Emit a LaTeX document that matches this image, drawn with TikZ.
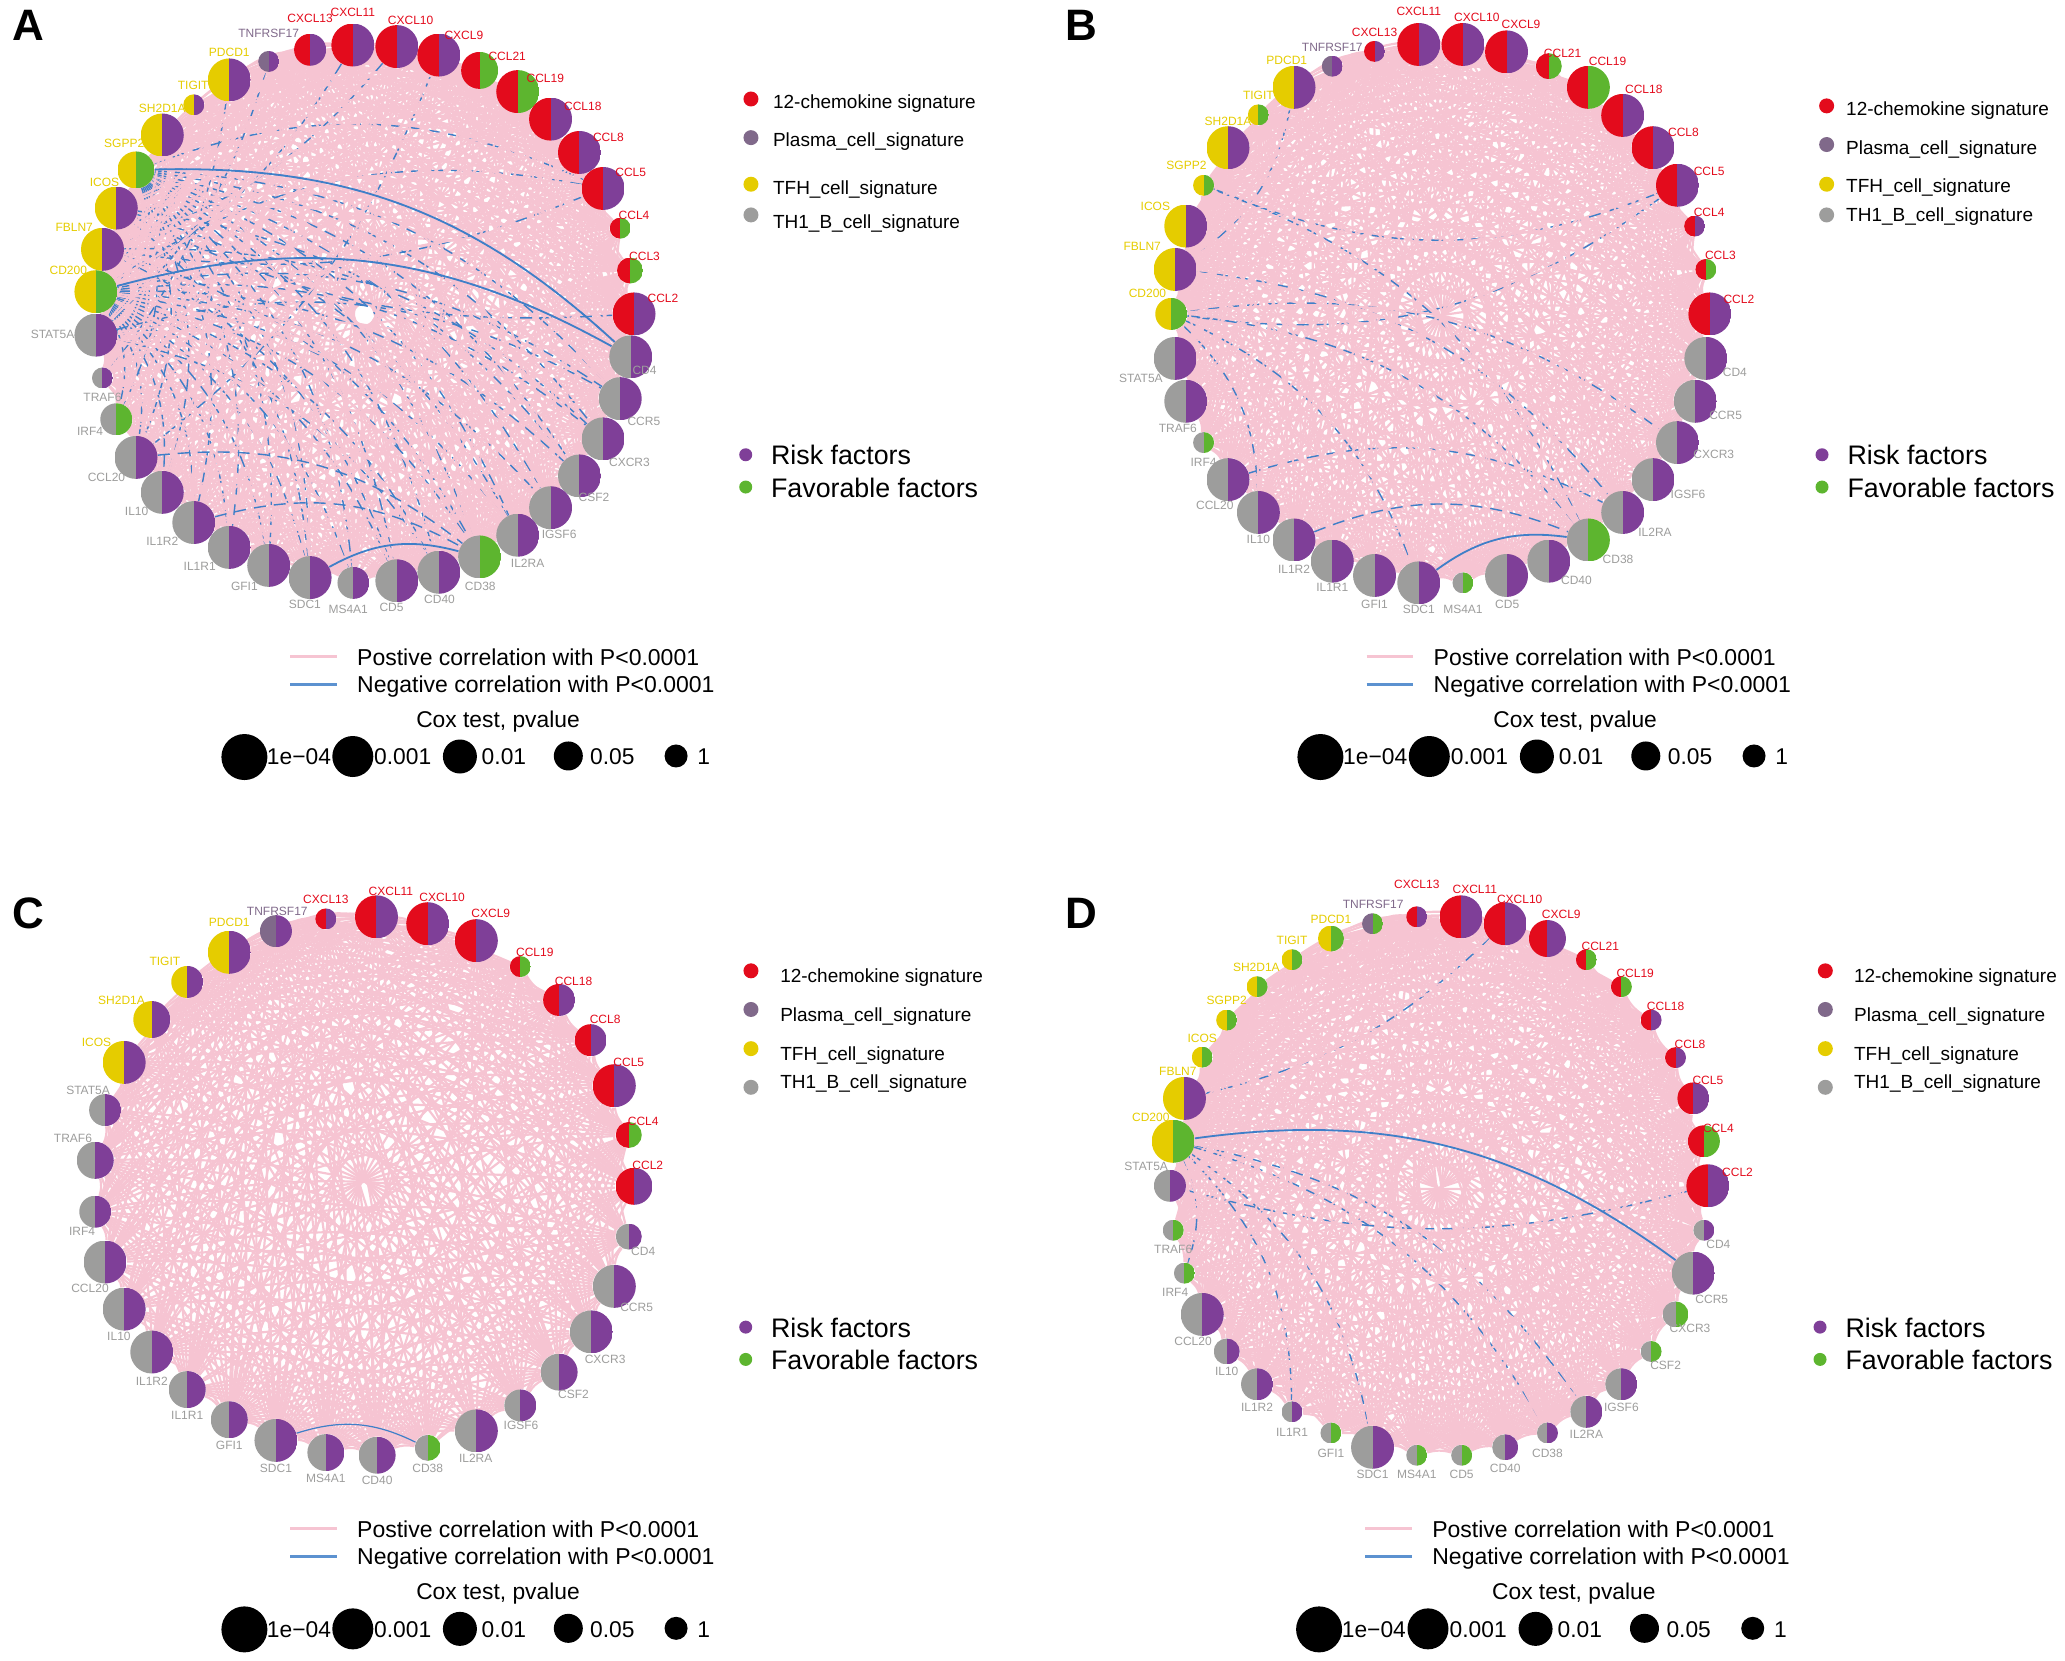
\documentclass[tikz,border=0pt]{standalone}
\usepackage{fontspec}
\setmainfont{Liberation Sans}
\usetikzlibrary{backgrounds}

\definecolor{cRed}{HTML}{E30B1C}
\definecolor{cPlasma}{HTML}{80698A}
\definecolor{cYellow}{HTML}{E5CC00}
\definecolor{cGray}{HTML}{9D9D9C}
\definecolor{cRisk}{HTML}{7F3F98}
\definecolor{cFav}{HTML}{5DB52F}
\definecolor{cPink}{HTML}{F6C4D2}
\definecolor{cBlue}{HTML}{3F7FC8}

\tikzset{
  gene/.style n args={3}{circle,inner sep=0pt,minimum size=#1*0.5pt,
    path picture={
      \fill[#2] (path picture bounding box.south west) rectangle (path picture bounding box.north);
      \fill[#3] (path picture bounding box.south) rectangle (path picture bounding box.north east);
    }},
  genelabel/.style={font=\fontsize{6}{7}\selectfont,inner sep=0pt},
  posedge/.style={cPink,line width=1.1pt},
  negedge/.style={cBlue,line width=0.7pt,dash pattern=on 6pt off 4pt},
  negstrong/.style={cBlue,line width=0.9pt},
  keydot/.style={circle,inner sep=0pt,minimum size=#1*0.5pt},
  keytext/.style={anchor=west,inner sep=0pt},
  panelletter/.style={font=\fontsize{22}{24}\selectfont\bfseries,inner sep=0pt},
  leftpanel/.style={x=0.3285pt,y=-0.2647pt},
  rightpanel/.style={x=0.33pt,y=-0.2647pt}
}

\newcounter{genecount}
\newcommand{\netbend}{15}
\newcommand{\negbend}{22}

\newcommand{\gene}[9]{%
  \stepcounter{genecount}%
  \node[gene={#5}{#6}{#7},alias=#1#2] (#1\arabic{genecount}) at (#3,#4) {};
  \node[genelabel,text=#6] (#1#2t) at (#8,#9) {#2};
}

% #3=0 the pairs under the blue edges, #3=1 the pairs over them
\newcommand{\posnet}[3]{%
  \foreach \ia in {1,...,#2}{\foreach \ib in {1,...,#2}{%
    \ifnum\ia<\ib
      \pgfmathtruncatemacro{\hv}{mod(3*\ia*\ia+5*\ib*\ib+\ia*\ib,13)}%
      \ifnum#3=0
        \ifnum\hv>5 \draw[posedge] (#1\ia) to[bend right=\netbend] (#1\ib); \fi
      \else
        \ifnum\hv>2 \ifnum\hv<6 \draw[posedge] (#1\ia) to[bend right=\netbend] (#1\ib); \fi\fi
      \fi
    \fi}}%
}

\newcommand{\sigkey}[7]{%
  \node[keydot=15,fill=#6] (#1dot) at (#2,#3) {};
  \node[keytext] (#1txt) at (#4,{#5+3}) {\fontsize{9.5}{11}\selectfont #7};
}

% risk key, line key and Cox key; #2 #3 shift, #4 shift of the risk key
\newcommand{\panelkeys}[4]{%
  \node[keydot=13,fill=cRisk] (#1riskdot) at ({1135+#4},{859+#3}) {};
  \node[keydot=13,fill=cFav] (#1favdot) at ({1135+#4},{920+#3}) {};
  \node[keytext] (#1risk) at ({1173+#4},{860+#3}) {\fontsize{13.4}{16}\selectfont Risk factors};
  \node[keytext] (#1fav) at ({1173+#4},{921+#3}) {\fontsize{13.4}{16}\selectfont Favorable factors};
  \coordinate (#1posa) at ({442+#2},{1240+#3});
  \coordinate (#1posb) at ({513+#2},{1240+#3});
  \coordinate (#1nega) at ({442+#2},{1293+#3});
  \coordinate (#1negb) at ({513+#2},{1293+#3});
  \draw[cPink,line width=1.5pt] (#1posa) -- (#1posb);
  \draw[cBlue!85!white,line width=1.5pt] (#1nega) -- (#1negb);
  \node[keytext] (#1postxt) at ({543+#2},{1241+#3}) {\fontsize{11.5}{13}\selectfont Postive correlation with P<0.0001};
  \node[keytext] (#1negtxt) at ({543+#2},{1297+#3}) {\fontsize{11.5}{13}\selectfont Negative correlation with P<0.0001};
  \node[inner sep=0pt] (#1coxtitle) at ({758+#2},{1363+#3}) {\fontsize{11.4}{13}\selectfont Cox test, pvalue};
  \node[keydot=46,fill=black] (#1coxa) at ({372+#2},{1430+#3}) {};
  \node[keydot=41,fill=black] (#1coxb) at ({537+#2},{1429+#3}) {};
  \node[keydot=34,fill=black] (#1coxc) at ({700+#2},{1429+#3}) {};
  \node[keydot=29,fill=black] (#1coxd) at ({865+#2},{1428+#3}) {};
  \node[keydot=23,fill=black] (#1coxe) at ({1029+#2},{1428+#3}) {};
  \node[inner sep=0pt] (#1coxat) at ({455+#2},{1430+#3}) {\fontsize{11.4}{13}\selectfont 1e−04};
  \node[inner sep=0pt] (#1coxbt) at ({613+#2},{1430+#3}) {\fontsize{11.4}{13}\selectfont 0.001};
  \node[inner sep=0pt] (#1coxct) at ({767+#2},{1430+#3}) {\fontsize{11.4}{13}\selectfont 0.01};
  \node[inner sep=0pt] (#1coxdt) at ({932+#2},{1430+#3}) {\fontsize{11.4}{13}\selectfont 0.05};
  \node[inner sep=0pt] (#1coxet) at ({1071+#2},{1430+#3}) {\fontsize{11.4}{13}\selectfont 1};
}

\begin{document}
\begin{tikzpicture}[x=0.5pt,y=-0.5pt]
  \useasboundingbox (0,0) rectangle (2065,1660);

  % panel A
  \begin{scope}[shift={(0,0)},leftpanel]
    \setcounter{genecount}{0}
    \node[panelletter] (letterA) at (43,48) {A};
    \gene{a}{CXCL13}{472}{94}{32}{cRed}{cRisk}{472}{34}
    \gene{a}{CXCL11}{537}{85}{43}{cRed}{cRisk}{537}{24}
    \gene{a}{CXCL10}{604}{88}{43}{cRed}{cRisk}{625}{38}
    \gene{a}{CXCL9}{668}{104}{43}{cRed}{cRisk}{706}{66}
    \gene{a}{CCL21}{730}{133}{37}{cRed}{cFav}{772}{106}
    \gene{a}{CCL19}{788}{173}{43}{cRed}{cFav}{830}{148}
    \gene{a}{CCL18}{838}{225}{43}{cRed}{cRisk}{887}{200}
    \gene{a}{CCL8}{882}{288}{43}{cRed}{cRisk}{926}{259}
    \gene{a}{CCL5}{918}{356}{43}{cRed}{cRisk}{960}{326}
    \gene{a}{CCL4}{944}{431}{21}{cRed}{cFav}{965}{406}
    \gene{a}{CCL3}{959}{511}{26}{cRed}{cFav}{981}{485}
    \gene{a}{CCL2}{965}{593}{43}{cRed}{cRisk}{1009}{563}
    \gene{a}{CD4}{960}{674}{43}{cGray}{cRisk}{981}{700}
    \gene{a}{CCR5}{944}{753}{43}{cGray}{cRisk}{980}{796}
    \gene{a}{CXCR3}{918}{829}{43}{cGray}{cRisk}{958}{873}
    \gene{a}{CSF2}{882}{899}{43}{cGray}{cRisk}{904}{940}
    \gene{a}{IGSF6}{838}{959}{43}{cGray}{cRisk}{851}{1010}
    \gene{a}{IL2RA}{788}{1011}{43}{cGray}{cRisk}{803}{1065}
    \gene{a}{CD38}{730}{1052}{43}{cGray}{cFav}{731}{1107}
    \gene{a}{CD40}{668}{1081}{43}{cGray}{cRisk}{669}{1132}
    \gene{a}{CD5}{604}{1097}{43}{cGray}{cRisk}{596}{1148}
    \gene{a}{MS4A1}{538}{1101}{32}{cGray}{cRisk}{530}{1151}
    \gene{a}{SDC1}{472}{1091}{43}{cGray}{cRisk}{464}{1141}
    \gene{a}{GFI1}{409}{1068}{43}{cGray}{cRisk}{372}{1108}
    \gene{a}{IL1R1}{349}{1034}{43}{cGray}{cRisk}{304}{1069}
    \gene{a}{IL1R2}{295}{987}{43}{cGray}{cRisk}{247}{1022}
    \gene{a}{IL10}{247}{930}{43}{cGray}{cRisk}{208}{966}
    \gene{a}{CCL20}{207}{864}{43}{cGray}{cRisk}{162}{902}
    \gene{a}{IRF4}{177}{792}{32}{cGray}{cFav}{137}{815}
    \gene{a}{TRAF6}{156}{714}{21}{cGray}{cRisk}{156}{751}
    \gene{a}{STAT5A}{146}{633}{43}{cGray}{cRisk}{80}{632}
    \gene{a}{CD200}{146}{551}{43}{cYellow}{cFav}{104}{510}
    \gene{a}{FBLN7}{156}{471}{43}{cYellow}{cRisk}{113}{429}
    \gene{a}{ICOS}{177}{393}{43}{cYellow}{cRisk}{159}{344}
    \gene{a}{SGPP2}{207}{321}{37}{cYellow}{cFav}{189}{271}
    \gene{a}{SH2D1A}{247}{255}{43}{cYellow}{cRisk}{247}{205}
    \gene{a}{TIGIT}{295}{198}{21}{cYellow}{cRisk}{294}{161}
    \gene{a}{PDCD1}{349}{151}{43}{cYellow}{cRisk}{349}{98}
    \gene{a}{TNFRSF17}{409}{116}{21}{cPlasma}{cRisk}{409}{63}
    \begin{scope}[on background layer]
      \posnet{a}{39}{0}
      \foreach \ts in {CD4,CCR5,CXCR3,CSF2,IGSF6,IL2RA,CD38,CD40,CD5,MS4A1,SDC1,GFI1,IL1R1,IL1R2,IL10,CCL20,IRF4,CCL5}{
        \draw[negedge] (aSGPP2) to[bend left=\negbend] (a\ts);
        \draw[negedge] (aCD200) to[bend left=\negbend] (a\ts);
      }
      \foreach \ts/\tt in {FBLN7/CXCR3,FBLN7/CD38,FBLN7/CD5,ICOS/CSF2,ICOS/IL2RA,ICOS/SDC1,STAT5A/CCR5,STAT5A/CD40}{
        \draw[negedge] (a\ts) to[bend left=\negbend] (a\tt);
      }
      \foreach \ts/\tt in {CXCL11/CD200,CXCL10/FBLN7,TNFRSF17/STAT5A,PDCD1/TRAF6,CXCL9/CCL20,CCL5/FBLN7,CCL2/ICOS}{
        \draw[negedge] (a\ts) to[bend left=\netbend] (a\tt);
      }
      \posnet{a}{39}{1}
      \draw[negstrong] (aSGPP2) to[bend left=\negbend] (aCD4);
      \draw[negstrong] (aCD200) to[bend left=\negbend] (aCD4);
      \draw[negstrong] (aSDC1) to[bend left=\negbend] (aCD38);
      \draw[negedge] (aIL1R2) to[bend left=\negbend] (aCD38);
      \draw[negedge] (aCCL20) to[bend left=\negbend] (aCD38);
    \end{scope}
    \foreach \nm/\cl/\dy/\ty/\lb in {a/cRed/187/192/12-chemokine signature,b/cPlasma/260/264/Plasma\_cell\_signature,c/cYellow/348/355/TFH\_cell\_signature,d/cGray/406/419/TH1\_B\_cell\_signature}{
      \sigkey{asig\nm}{1143}{\dy}{1176}{\ty}{\cl}{\lb}
    }
    \panelkeys{ak}{0}{0}{0}
  \end{scope}

  % panel B
  \begin{scope}[shift={(1030,0)},rightpanel]
    \setcounter{genecount}{0}
    \node[panelletter] (letterB) at (78,48) {B};
    \gene{b}{CXCL13}{522}{97}{21}{cRed}{cRisk}{522}{61}
    \gene{b}{CXCL11}{589}{84}{43}{cRed}{cRisk}{589}{21}
    \gene{b}{CXCL10}{656}{84}{43}{cRed}{cRisk}{677}{33}
    \gene{b}{CXCL9}{722}{98}{43}{cRed}{cRisk}{744}{46}
    \gene{b}{CCL21}{786}{125}{26}{cRed}{cFav}{807}{100}
    \gene{b}{CCL19}{846}{165}{43}{cRed}{cFav}{875}{115}
    \gene{b}{CCL18}{898}{218}{43}{cRed}{cRisk}{930}{169}
    \gene{b}{CCL8}{944}{279}{43}{cRed}{cRisk}{990}{250}
    \gene{b}{CCL5}{981}{350}{43}{cRed}{cRisk}{1029}{324}
    \gene{b}{CCL4}{1007}{427}{21}{cRed}{cRisk}{1029}{401}
    \gene{b}{CCL3}{1024}{509}{21}{cRed}{cFav}{1046}{482}
    \gene{b}{CCL2}{1030}{593}{43}{cRed}{cRisk}{1074}{565}
    \gene{b}{CD4}{1024}{677}{43}{cGray}{cRisk}{1068}{703}
    \gene{b}{CCR5}{1008}{758}{43}{cGray}{cRisk}{1054}{785}
    \gene{b}{CXCR3}{981}{836}{43}{cGray}{cRisk}{1036}{858}
    \gene{b}{IGSF6}{944}{906}{43}{cGray}{cRisk}{997}{933}
    \gene{b}{IL2RA}{898}{968}{43}{cGray}{cRisk}{947}{1006}
    \gene{b}{CD38}{846}{1020}{43}{cGray}{cFav}{891}{1057}
    \gene{b}{CD40}{786}{1060}{43}{cGray}{cRisk}{828}{1096}
    \gene{b}{CD5}{722}{1087}{43}{cGray}{cRisk}{723}{1141}
    \gene{b}{MS4A1}{656}{1101}{21}{cGray}{cFav}{656}{1152}
    \gene{b}{SDC1}{589}{1101}{43}{cGray}{cRisk}{589}{1152}
    \gene{b}{GFI1}{522}{1087}{43}{cGray}{cRisk}{522}{1141}
    \gene{b}{IL1R1}{458}{1060}{43}{cGray}{cRisk}{458}{1110}
    \gene{b}{IL1R2}{400}{1020}{43}{cGray}{cRisk}{400}{1075}
    \gene{b}{IL10}{346}{968}{43}{cGray}{cRisk}{346}{1018}
    \gene{b}{CCL20}{300}{906}{43}{cGray}{cRisk}{280}{955}
    \gene{b}{IRF4}{263}{836}{21}{cGray}{cFav}{263}{873}
    \gene{b}{TRAF6}{236}{758}{43}{cGray}{cRisk}{224}{809}
    \gene{b}{STAT5A}{220}{677}{43}{cGray}{cRisk}{168}{714}
    \gene{b}{CD200}{214}{593}{32}{cYellow}{cFav}{178}{554}
    \gene{b}{FBLN7}{220}{509}{43}{cYellow}{cRisk}{170}{465}
    \gene{b}{ICOS}{236}{427}{43}{cYellow}{cRisk}{190}{390}
    \gene{b}{SGPP2}{263}{350}{21}{cYellow}{cFav}{237}{313}
    \gene{b}{SH2D1A}{300}{279}{43}{cYellow}{cRisk}{300}{229}
    \gene{b}{TIGIT}{346}{217}{21}{cYellow}{cFav}{346}{180}
    \gene{b}{PDCD1}{400}{165}{43}{cYellow}{cRisk}{389}{114}
    \gene{b}{TNFRSF17}{458}{125}{21}{cPlasma}{cRisk}{458}{89}
    \begin{scope}[on background layer]
      \posnet{b}{38}{0}
      \foreach \ts/\tt in {CD200/CXCR3,CD200/CD38,CD200/SDC1,CD200/IL10,FBLN7/IL2RA,SGPP2/CD38,CCL5/SGPP2,CCL5/CD200,PDCD1/FBLN7,CCL20/IL2RA}{
        \draw[negedge] (b\ts) to[bend left=\negbend] (b\tt);
      }
      \posnet{b}{38}{1}
      \draw[negedge] (bIL1R2) to[bend left=\negbend] (bCD38);
      \draw[negstrong] (bSDC1) to[bend left=\negbend] (bCD38);
    \end{scope}
    \foreach \nm/\cl/\dy/\ty/\lb in {a/cRed/200/205/12-chemokine signature,b/cPlasma/273/279/Plasma\_cell\_signature,c/cYellow/348/352/TFH\_cell\_signature,d/cGray/406/406/TH1\_B\_cell\_signature}{
      \sigkey{bsig\nm}{1207}{\dy}{1236}{\ty}{\cl}{\lb}
    }
    \panelkeys{bk}{68}{0}{65}
  \end{scope}

  % panel C
  \begin{scope}[shift={(0,830)},leftpanel]
    \setcounter{genecount}{0}
    \node[panelletter] (letterC) at (43,158) {C};
    \gene{c}{CXCL13}{496}{168}{21}{cRed}{cRisk}{496}{131}
    \gene{c}{CXCL11}{573}{164}{43}{cRed}{cRisk}{595}{115}
    \gene{c}{CXCL10}{651}{177}{43}{cRed}{cRisk}{673}{128}
    \gene{c}{CXCL9}{725}{209}{43}{cRed}{cRisk}{747}{157}
    \gene{c}{CCL19}{792}{258}{21}{cRed}{cFav}{814}{232}
    \gene{c}{CCL18}{851}{321}{32}{cRed}{cRisk}{873}{285}
    \gene{c}{CCL8}{899}{397}{32}{cRed}{cRisk}{921}{358}
    \gene{c}{CCL5}{935}{483}{43}{cRed}{cRisk}{957}{438}
    \gene{c}{CCL4}{957}{576}{26}{cRed}{cFav}{979}{550}
    \gene{c}{CCL2}{965}{673}{37}{cRed}{cRisk}{986}{633}
    \gene{c}{CD4}{957}{768}{26}{cGray}{cRisk}{979}{795}
    \gene{c}{CCR5}{935}{862}{43}{cGray}{cRisk}{969}{902}
    \gene{c}{CXCR3}{900}{948}{43}{cGray}{cRisk}{921}{1000}
    \gene{c}{CSF2}{851}{1024}{37}{cGray}{cRisk}{873}{1066}
    \gene{c}{IGSF6}{792}{1087}{32}{cGray}{cRisk}{793}{1125}
    \gene{c}{IL2RA}{725}{1135}{43}{cGray}{cRisk}{724}{1187}
    \gene{c}{CD38}{651}{1167}{26}{cGray}{cFav}{651}{1205}
    \gene{c}{CD40}{574}{1181}{37}{cGray}{cRisk}{574}{1228}
    \gene{c}{MS4A1}{496}{1176}{37}{cGray}{cRisk}{496}{1224}
    \gene{c}{SDC1}{420}{1153}{43}{cGray}{cRisk}{420}{1205}
    \gene{c}{GFI1}{349}{1114}{37}{cGray}{cRisk}{349}{1163}
    \gene{c}{IL1R1}{285}{1057}{37}{cGray}{cRisk}{285}{1105}
    \gene{c}{IL1R2}{231}{986}{43}{cGray}{cRisk}{231}{1042}
    \gene{c}{IL10}{189}{905}{43}{cGray}{cRisk}{181}{956}
    \gene{c}{CCL20}{160}{816}{43}{cGray}{cRisk}{137}{866}
    \gene{c}{IRF4}{145}{721}{32}{cGray}{cRisk}{125}{758}
    \gene{c}{TRAF6}{145}{624}{37}{cGray}{cRisk}{111}{583}
    \gene{c}{STAT5A}{160}{529}{32}{cGray}{cRisk}{134}{491}
    \gene{c}{ICOS}{189}{439}{43}{cYellow}{cRisk}{147}{401}
    \gene{c}{SH2D1A}{231}{358}{37}{cYellow}{cRisk}{185}{321}
    \gene{c}{TIGIT}{285}{287}{32}{cYellow}{cRisk}{251}{249}
    \gene{c}{PDCD1}{349}{231}{43}{cYellow}{cRisk}{349}{175}
    \gene{c}{TNFRSF17}{420}{191}{32}{cPlasma}{cRisk}{422}{154}
    \begin{scope}[on background layer]
      \posnet{c}{33}{0}
      \posnet{c}{33}{1}
      \draw[negstrong,line width=0.6pt] (cSDC1) to[bend left=\negbend] (cCD38);
    \end{scope}
    \foreach \nm/\cl/\dy/\ty/\lb in {a/cRed/266/275/12-chemokine signature,b/cPlasma/339/349/Plasma\_cell\_signature,c/cYellow/413/423/TFH\_cell\_signature,d/cGray/486/476/TH1\_B\_cell\_signature}{
      \sigkey{csig\nm}{1143}{\dy}{1187}{\ty}{\cl}{\lb}
    }
    \panelkeys{ck}{0}{80}{0}
  \end{scope}

  % panel D
  \begin{scope}[shift={(1030,830)},rightpanel]
    \setcounter{genecount}{0}
    \node[panelletter] (letterD) at (78,158) {D};
    \gene{d}{CXCL13}{586}{164}{21}{cRed}{cRisk}{586}{102}
    \gene{d}{CXCL11}{653}{164}{43}{cRed}{cRisk}{674}{113}
    \gene{d}{CXCL10}{720}{177}{43}{cRed}{cRisk}{742}{131}
    \gene{d}{CXCL9}{784}{205}{37}{cRed}{cRisk}{805}{159}
    \gene{d}{CCL21}{843}{245}{21}{cRed}{cFav}{864}{220}
    \gene{d}{CCL19}{896}{296}{21}{cRed}{cFav}{917}{271}
    \gene{d}{CCL18}{941}{359}{21}{cRed}{cRisk}{963}{333}
    \gene{d}{CCL8}{978}{430}{21}{cRed}{cRisk}{1000}{404}
    \gene{d}{CCL5}{1005}{507}{32}{cRed}{cRisk}{1027}{472}
    \gene{d}{CCL4}{1021}{588}{32}{cRed}{cFav}{1043}{563}
    \gene{d}{CCL2}{1027}{672}{43}{cRed}{cRisk}{1072}{647}
    \gene{d}{CD4}{1021}{756}{21}{cGray}{cRisk}{1043}{783}
    \gene{d}{CCR5}{1005}{837}{43}{cGray}{cRisk}{1033}{886}
    \gene{d}{CXCR3}{978}{915}{26}{cGray}{cFav}{1000}{941}
    \gene{d}{CSF2}{941}{985}{21}{cGray}{cFav}{963}{1012}
    \gene{d}{IGSF6}{896}{1047}{32}{cGray}{cRisk}{896}{1090}
    \gene{d}{IL2RA}{843}{1099}{32}{cGray}{cRisk}{843}{1142}
    \gene{d}{CD38}{784}{1139}{21}{cGray}{cRisk}{784}{1177}
    \gene{d}{CD40}{720}{1166}{26}{cGray}{cRisk}{720}{1205}
    \gene{d}{CD5}{654}{1181}{21}{cGray}{cFav}{654}{1218}
    \gene{d}{MS4A1}{586}{1181}{21}{cGray}{cFav}{586}{1218}
    \gene{d}{SDC1}{519}{1166}{43}{cGray}{cRisk}{519}{1218}
    \gene{d}{GFI1}{456}{1139}{21}{cGray}{cFav}{456}{1177}
    \gene{d}{IL1R1}{397}{1099}{21}{cGray}{cRisk}{397}{1137}
    \gene{d}{IL1R2}{344}{1047}{32}{cGray}{cRisk}{344}{1090}
    \gene{d}{IL10}{298}{985}{26}{cGray}{cRisk}{298}{1023}
    \gene{d}{CCL20}{261}{915}{43}{cGray}{cRisk}{247}{965}
    \gene{d}{IRF4}{234}{837}{21}{cGray}{cFav}{220}{873}
    \gene{d}{TRAF6}{217}{756}{21}{cGray}{cFav}{217}{793}
    \gene{d}{STAT5A}{212}{672}{32}{cGray}{cRisk}{176}{635}
    \gene{d}{CD200}{217}{588}{43}{cYellow}{cFav}{183}{543}
    \gene{d}{FBLN7}{234}{507}{43}{cYellow}{cRisk}{224}{455}
    \gene{d}{ICOS}{261}{429}{21}{cYellow}{cFav}{261}{393}
    \gene{d}{SGPP2}{298}{359}{21}{cYellow}{cFav}{298}{322}
    \gene{d}{SH2D1A}{344}{296}{21}{cYellow}{cFav}{343}{260}
    \gene{d}{TIGIT}{397}{245}{21}{cYellow}{cFav}{397}{208}
    \gene{d}{PDCD1}{456}{205}{26}{cYellow}{cFav}{456}{168}
    \gene{d}{TNFRSF17}{519}{177}{21}{cPlasma}{cFav}{520}{141}
    \begin{scope}[on background layer]
      \posnet{d}{38}{0}
      \foreach \ts/\tt in {CD200/IL2RA,CD200/SDC1,CD200/IL1R1,CD200/IRF4,CD200/CD38}{
        \draw[negedge] (d\ts) to[bend left=\negbend] (d\tt);
      }
      \draw[negedge] (dCXCL10) to[bend left=\netbend] (dFBLN7);
      \draw[negedge] (dSTAT5A) to[bend right=\netbend] (dCCL2);
      \posnet{d}{38}{1}
      \draw[negstrong] (dCD200) to[bend left=\negbend] (dCCR5);
    \end{scope}
    \foreach \nm/\cl/\dy/\ty/\lb in {a/cRed/266/275/12-chemokine signature,b/cPlasma/339/349/Plasma\_cell\_signature,c/cYellow/413/423/TFH\_cell\_signature,d/cGray/486/476/TH1\_B\_cell\_signature}{
      \sigkey{dsig\nm}{1205}{\dy}{1248}{\ty}{\cl}{\lb}
    }
    \panelkeys{dk}{66}{80}{62}
  \end{scope}
\end{tikzpicture}
\end{document}
